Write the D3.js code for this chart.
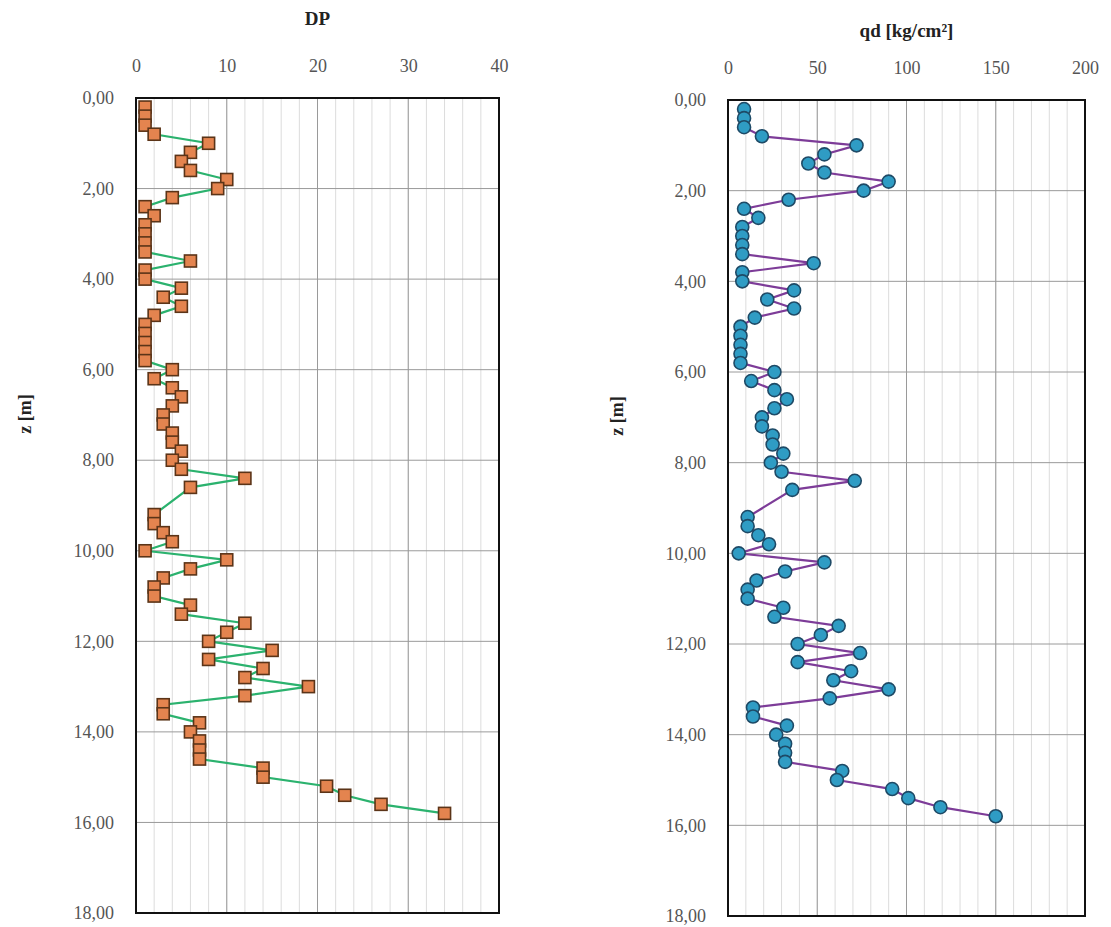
<!DOCTYPE html>
<html>
<head>
<meta charset="utf-8">
<script src="https://cdn.jsdelivr.net/npm/d3@7"></script>
<style>
  html, body { margin: 0; padding: 0; background: #fff; }
  svg { display: block; }
  text { font-family: "Liberation Serif", "DejaVu Serif", "Times New Roman", serif; }
</style>
</head>
<body>
<svg id="chart" width="1111" height="927"></svg>
<script>
// Penetration test profile: blow count DP and dynamic resistance qd vs depth z
const depths = [
  0.2, 0.4, 0.6, 0.8, 1.0, 1.2, 1.4, 1.6, 1.8, 2.0,
  2.2, 2.4, 2.6, 2.8, 3.0, 3.2, 3.4, 3.6, 3.8, 4.0,
  4.2, 4.4, 4.6, 4.8, 5.0, 5.2, 5.4, 5.6, 5.8, 6.0,
  6.2, 6.4, 6.6, 6.8, 7.0, 7.2, 7.4, 7.6, 7.8, 8.0,
  8.2, 8.4, 8.6, 9.2, 9.4, 9.6, 9.8, 10.0, 10.2, 10.4,
  10.6, 10.8, 11.0, 11.2, 11.4, 11.6, 11.8, 12.0, 12.2, 12.4,
  12.6, 12.8, 13.0, 13.2, 13.4, 13.6, 13.8, 14.0, 14.2, 14.4,
  14.6, 14.8, 15.0, 15.2, 15.4, 15.6, 15.8
];
const dpValues = [
  1, 1, 1, 2, 8, 6, 5, 6, 10, 9,
  4, 1, 2, 1, 1, 1, 1, 6, 1, 1,
  5, 3, 5, 2, 1, 1, 1, 1, 1, 4,
  2, 4, 5, 4, 3, 3, 4, 4, 5, 4,
  5, 12, 6, 2, 2, 3, 4, 1, 10, 6,
  3, 2, 2, 6, 5, 12, 10, 8, 15, 8,
  14, 12, 19, 12, 3, 3, 7, 6, 7, 7,
  7, 14, 14, 21, 23, 27, 34
];
const qdValues = [
  9, 9, 9, 19, 72, 54, 45, 54, 90, 76,
  34, 9, 17, 8, 8, 8, 8, 48, 8, 8,
  37, 22, 37, 15, 7, 7, 7, 7, 7, 26,
  13, 26, 33, 26, 19, 19, 25, 25, 31, 24,
  30, 71, 36, 11, 11, 17, 23, 6, 54, 32,
  16, 11, 11, 31, 26, 62, 52, 39, 74, 39,
  69, 59, 90, 57, 14, 14, 33, 27, 32, 32,
  32, 64, 61, 92, 101, 119, 150
];
const depthTicks = [0, 2, 4, 6, 8, 10, 12, 14, 16, 18];
const dpTicks = [0, 10, 20, 30, 40];
const qdTicks = [0, 50, 100, 150, 200];

const svg = d3.select("#chart");
const fmtDepth = d3.formatLocale({ decimal: ",", thousands: ".", grouping: [3], currency: ["", ""] }).format(".2f");

function panel(opts) {
  const x = d3.scaleLinear().domain(opts.xDomain).range([opts.left, opts.right]);
  const y = d3.scaleLinear().domain([0, 18]).range([opts.top, opts.bottom]);
  const g = svg.append("g");

  // minor vertical grid
  g.append("g").selectAll("line")
    .data(d3.range(opts.xDomain[0], opts.xDomain[1] + 1e-9, opts.minorStep))
    .join("line")
    .attr("x1", d => x(d)).attr("x2", d => x(d))
    .attr("y1", opts.top).attr("y2", opts.bottom)
    .attr("stroke", "#dcdcdc").attr("stroke-width", 1);

  // major vertical grid
  g.append("g").selectAll("line")
    .data(opts.xTicks)
    .join("line")
    .attr("x1", d => x(d)).attr("x2", d => x(d))
    .attr("y1", opts.top).attr("y2", opts.bottom)
    .attr("stroke", "#9a9a9a").attr("stroke-width", 1);

  // horizontal grid
  g.append("g").selectAll("line")
    .data(depthTicks)
    .join("line")
    .attr("x1", opts.left).attr("x2", opts.right)
    .attr("y1", d => y(d)).attr("y2", d => y(d))
    .attr("stroke", "#9a9a9a").attr("stroke-width", 1);

  // top axis (labels only)
  const xAxis = d3.axisTop(x).tickValues(opts.xTicks).tickSize(0).tickPadding(0).tickFormat(d3.format("d"));
  const gx = g.append("g").attr("transform", `translate(0,${opts.top - 26})`).call(xAxis);
  gx.attr("font-family", null);
  gx.select(".domain").remove();
  gx.selectAll("text").attr("font-size", 18).attr("fill", "#555");

  // left axis (labels only)
  const yAxis = d3.axisLeft(y).tickValues(depthTicks).tickSize(0).tickPadding(0).tickFormat(fmtDepth);
  const gy = g.append("g").attr("transform", `translate(${opts.left - 22},0)`).call(yAxis);
  gy.attr("font-family", null);
  gy.select(".domain").remove();
  gy.selectAll("text").attr("font-size", 18).attr("fill", "#555");

  // frame
  g.append("rect")
    .attr("x", opts.left).attr("y", opts.top)
    .attr("width", opts.right - opts.left).attr("height", opts.bottom - opts.top)
    .attr("fill", "none").attr("stroke", "#111").attr("stroke-width", 2);

  const pts = depths.map((z, i) => ({ z, v: opts.values[i] }));

  // profile line
  g.append("path")
    .datum(pts)
    .attr("fill", "none")
    .attr("stroke", opts.lineColor)
    .attr("stroke-width", 2.2)
    .attr("d", d3.line().x(d => x(d.v)).y(d => y(d.z)));

  // markers
  if (opts.marker === "square") {
    const s = 12;
    g.append("g").selectAll("rect")
      .data(pts).join("rect")
      .attr("x", d => x(d.v) - s / 2).attr("y", d => y(d.z) - s / 2)
      .attr("width", s).attr("height", s)
      .attr("fill", opts.fill).attr("stroke", opts.stroke).attr("stroke-width", 1.6);
  } else {
    g.append("g").selectAll("circle")
      .data(pts).join("circle")
      .attr("cx", d => x(d.v)).attr("cy", d => y(d.z)).attr("r", 6.5)
      .attr("fill", opts.fill).attr("stroke", opts.stroke).attr("stroke-width", 1.6);
  }

  // titles
  g.append("text")
    .attr("x", (opts.left + opts.right) / 2).attr("y", opts.titleY)
    .attr("text-anchor", "middle").attr("font-size", 19).attr("font-weight", "bold")
    .attr("fill", "#222")
    .text(opts.title);

  g.append("text")
    .attr("transform", `translate(${opts.zLabelX},${opts.zLabelY}) rotate(-90)`)
    .attr("text-anchor", "middle").attr("dominant-baseline", "middle")
    .attr("font-size", 18).attr("font-weight", "bold").attr("fill", "#222")
    .text("z [m]");
}

panel({
  left: 136, right: 499, top: 98, bottom: 913,
  xDomain: [0, 40], xTicks: dpTicks, minorStep: 2,
  values: dpValues, marker: "square",
  lineColor: "#2bb26e", fill: "#e4844f", stroke: "#5b3418",
  title: "DP", titleY: 25, zLabelX: 27, zLabelY: 414
});

panel({
  left: 728, right: 1085, top: 100, bottom: 916,
  xDomain: [0, 200], xTicks: qdTicks, minorStep: 10,
  values: qdValues, marker: "circle",
  lineColor: "#7d3c98", fill: "#2f9cc4", stroke: "#1e4a66",
  title: "qd [kg/cm²]", titleY: 37, zLabelX: 619, zLabelY: 416
});
</script>
</body>
</html>
